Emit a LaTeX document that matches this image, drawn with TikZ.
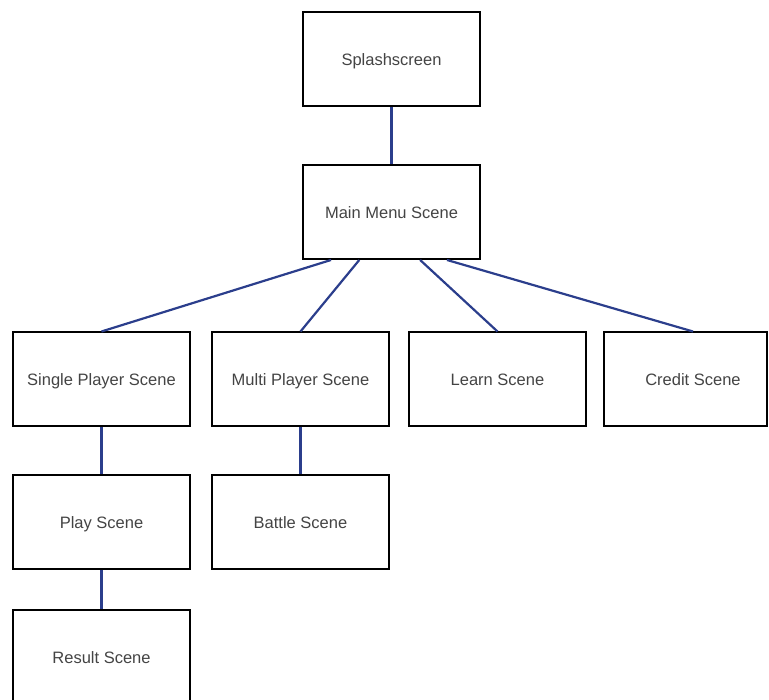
\documentclass[tikz,border=0pt]{standalone}
\usepackage{fontspec}
\setmainfont{Liberation Sans}
\usetikzlibrary{calc}
\definecolor{linkblue}{HTML}{2B3E8C}
\definecolor{txtgray}{HTML}{444444}
\tikzset{
  scenebox/.style={draw=black, line width=2pt, fill=white, minimum width=177pt, minimum height=94pt,
    inner sep=0pt, text height=14pt, text depth=1.5pt, text=txtgray, font=\fontsize{16.5}{19}\selectfont},
  link/.style={draw=linkblue, line width=2.2pt}
}
\begin{document}
\begin{tikzpicture}[x=1pt,y=1pt]
\useasboundingbox (0,0) rectangle (769,700);
\clip (0,0) rectangle (769,700);
\node[scenebox] (splash) at (391.5,641) {Splashscreen};
\node[scenebox] (main) at (391.5,488) {Main Menu Scene};
\node[scenebox] (single) at (101.5,320.5) {Single Player Scene};
\node[scenebox] (multi) at (300.5,320.5) {Multi Player Scene};
\node[scenebox] (learn) at (497.5,320.5) {Learn Scene};
\node[scenebox, minimum width=163pt] (credit) at (685.5,320.5) {\hspace*{15pt}Credit Scene};
\node[scenebox] (play) at (101.5,178) {Play Scene};
\node[scenebox] (battle) at (300.5,178) {Battle Scene};
\node[scenebox] (result) at (101.5,43) {Result Scene};
\path[link] (splash.south) -- (main.north);
\path[link] ($(main.south west)!0.162!(main.south east)$) -- (single.north);
\path[link] ($(main.south west)!0.32!(main.south east)$) -- (multi.north);
\path[link] ($(main.south west)!0.66!(main.south east)$) -- (learn.north);
\path[link] ($(main.south west)!0.81!(main.south east)$) -- ($(credit.north)+(7.5,0)$);
\path[link] (single.south) -- (play.north);
\path[link] (multi.south) -- (battle.north);
\path[link] (play.south) -- (result.north);
\end{tikzpicture}
\end{document}
